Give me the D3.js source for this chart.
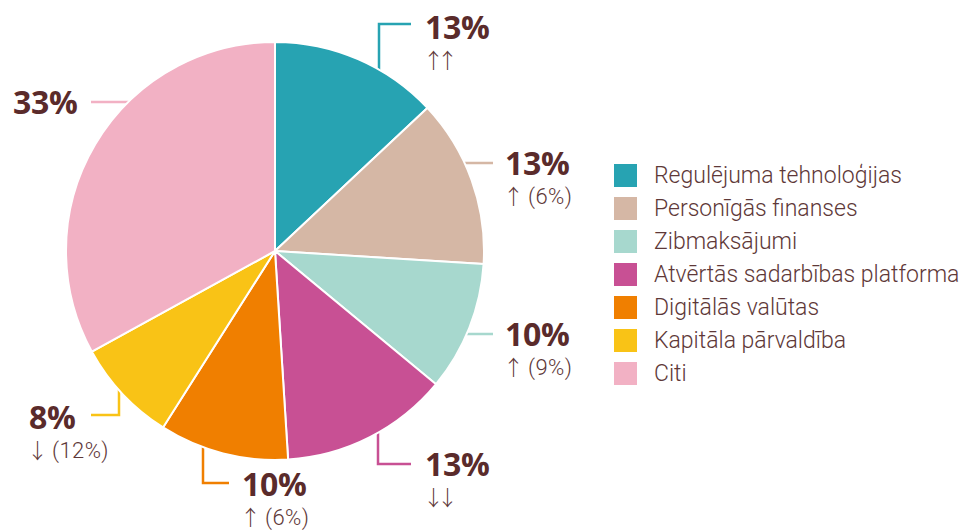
<!DOCTYPE html>
<html>
<head>
<meta charset="utf-8">
<script src="https://cdn.jsdelivr.net/npm/d3@7"></script>
<style>
  html, body { margin: 0; padding: 0; background: #fff; }
  svg { display: block; }
</style>
</head>
<body>
<svg id="chart" width="962" height="532"></svg>
<script>
// data
const categories = [
  "Regulējuma tehnoloģijas",
  "Personīgās finanses",
  "Zibmaksājumi",
  "Atvērtās sadarbības platforma",
  "Digitālās valūtas",
  "Kapitāla pārvaldība",
  "Citi"
];
const values = [13, 13, 10, 13, 10, 8, 33];
const changeArrows = ["↑↑", "↑", "↑", "↓↓", "↑", "↓", ""];
const changePrev = ["", "(6%)", "(9%)", "", "(6%)", "(12%)", ""];
const colors = ["#27a3b2", "#d5b7a5", "#a7d8ce", "#c85094", "#f07f00", "#f9c316", "#f2b1c4"];

// label placement (leader: 'v' = vertical then horizontal, 'h' = horizontal)
const labelLayout = [
  { kind: "v", lineX: 379, elbowY: 24,  endX: 411, tx: 425, ty: 39 },
  { kind: "h", lineY: 163, endX: 493, tx: 505, ty: 175 },
  { kind: "h", lineY: 334, endX: 493, tx: 505, ty: 346 },
  { kind: "v", lineX: 378, elbowY: 464, endX: 411, tx: 425, ty: 476 },
  { kind: "v", lineX: 203, elbowY: 483, endX: 229, tx: 242, ty: 496 },
  { kind: "v", lineX: 119, elbowY: 415, endX: 91,  tx: 29,  ty: 429 },
  { kind: "h", lineY: 102, endX: 91, tx: 13, ty: 114 }
];

const textColor = "#5a2b2b";
const subColor = "#5e3838";
const cx = 275, cy = 251, r = 209;

const svg = d3.select("#chart");

const pie = d3.pie().sort(null).value(d => d)(values);
const arc = d3.arc().innerRadius(0).outerRadius(r);

// leader lines (behind the pie)
const lines = svg.append("g");
labelLayout.forEach((L, i) => {
  let pts;
  if (L.kind === "v") {
    const dx = L.lineX - cx;
    const dy = Math.sqrt(r * r - dx * dx);
    const startY = L.elbowY < cy ? cy - dy + 6 : cy + dy - 6;
    pts = [[L.lineX, startY], [L.lineX, L.elbowY], [L.endX, L.elbowY]];
  } else {
    const dy = L.lineY - cy;
    const dx = Math.sqrt(r * r - dy * dy);
    const startX = L.endX > cx ? cx + dx - 6 : cx - dx + 6;
    pts = [[startX, L.lineY], [L.endX, L.lineY]];
  }
  lines.append("path")
    .attr("d", d3.line()(pts))
    .attr("fill", "none")
    .attr("stroke", colors[i])
    .attr("stroke-width", 2.5);
});

// slices
svg.append("g")
  .attr("transform", `translate(${cx},${cy})`)
  .selectAll("path")
  .data(pie)
  .join("path")
  .attr("d", arc)
  .attr("fill", (d, i) => colors[i])
  .attr("stroke", "#fff")
  .attr("stroke-width", 2)
  .attr("stroke-linejoin", "round");

// value labels
const labels = svg.append("g");
labelLayout.forEach((L, i) => {
  labels.append("text")
    .attr("x", L.tx)
    .attr("y", L.ty)
    .attr("fill", textColor)
    .style("font-family", "'Open Sans', sans-serif")
    .style("font-weight", 700)
    .style("font-size", "32px")
    .style("letter-spacing", "-0.3px")
    .text(values[i] + "%");
  if (changeArrows[i]) {
    const t = labels.append("text")
      .attr("x", L.tx - 2)
      .attr("y", L.ty + 29)
      .attr("fill", subColor)
      .style("font-family", "Roboto, sans-serif")
      .style("font-weight", 300)
      .style("font-size", "22px");
    t.append("tspan")
      .style("font-family", "'Noto Sans CJK JP', sans-serif")
      .style("font-weight", 300)
      .style("font-size", "21px")
      .style("letter-spacing", "-7px")
      .text(changeArrows[i]);
    if (changePrev[i]) {
      t.append("tspan").attr("dx", 11).style("letter-spacing", "0.4px").text(changePrev[i]);
    }
  }
});

// legend
const legend = svg.append("g").attr("transform", "translate(614,164)");
const rowH = 33;
categories.forEach((c, i) => {
  const g = legend.append("g").attr("transform", `translate(0,${i * rowH})`);
  g.append("rect")
    .attr("width", 23).attr("height", 23)
    .attr("fill", colors[i]);
  g.append("text")
    .attr("x", 40)
    .attr("y", 19)
    .attr("fill", subColor)
    .style("font-family", "Roboto, sans-serif")
    .style("font-weight", 300)
    .style("font-size", "23px")
    .text(c);
});
</script>
</body>
</html>
